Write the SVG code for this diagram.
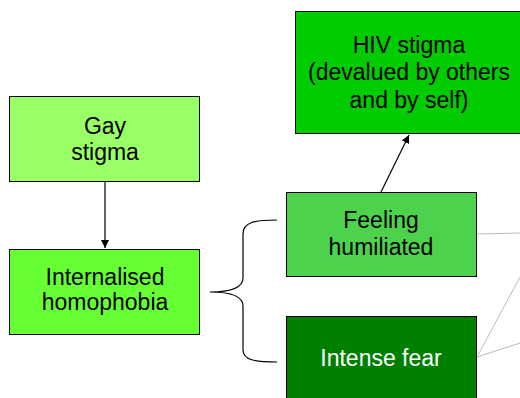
<svg xmlns="http://www.w3.org/2000/svg" width="520" height="398" viewBox="0 0 520 398">
<style>
.box{stroke:#000;stroke-width:1}
.t{font-family:"Liberation Sans",Arial,sans-serif;font-size:23px;text-anchor:middle;fill:#000}
.w{fill:#fff}
.c{fill:none;stroke:#000;stroke-width:1.2}
.g{fill:none;stroke:#bbb;stroke-width:1}
</style>
<defs>
<marker id="ah" viewBox="0 0 10 10" refX="10" refY="5" markerWidth="8" markerHeight="8" markerUnits="userSpaceOnUse" orient="auto">
<path d="M0,0 L10,5 L0,10 z" fill="#000"/>
</marker>
</defs>
<rect width="520" height="398" fill="#fff"/>
<g id="connectors">
<line class="c" x1="105" y1="182" x2="105" y2="248" marker-end="url(#ah)"/>
<line class="c" x1="381" y1="192" x2="409" y2="135" marker-end="url(#ah)"/>
<path class="c" d="M277,220 C255,220 243,222 243,234 L243,278 C243,288 232,292 210,292 C232,292 243,296 243,306 L243,350 C243,360 255,362 277,362"/>
<line class="g" x1="477" y1="234" x2="520" y2="233"/>
<line class="g" x1="477" y1="357" x2="520" y2="277"/>
<line class="g" x1="477" y1="357" x2="520" y2="343"/>
</g>
<g id="gay-stigma">
<rect class="box" x="9.5" y="96.5" width="190" height="85" fill="#99FF66"/>
<text class="t" x="105" y="134">Gay</text>
<text class="t" x="105" y="160">stigma</text>
</g>
<g id="internalised-homophobia">
<rect class="box" x="9.5" y="249.5" width="190" height="85" fill="#66FF33"/>
<text class="t" x="105" y="285">Internalised</text>
<text class="t" x="105" y="310">homophobia</text>
</g>
<g id="hiv-stigma">
<rect class="box" x="295.5" y="11.5" width="226" height="122" fill="#00CC00"/>
<text class="t" x="409" y="53">HIV stigma</text>
<text class="t" x="409" y="80">(devalued by others</text>
<text class="t" x="409" y="108">and by self)</text>
</g>
<g id="feeling-humiliated">
<rect class="box" x="286.5" y="192.5" width="190" height="84" fill="#4DD24D"/>
<text class="t" x="381" y="228">Feeling</text>
<text class="t" x="381" y="255">humiliated</text>
</g>
<g id="intense-fear">
<rect class="box" x="286.5" y="316.5" width="190" height="90" fill="#008000"/>
<text class="t w" x="381" y="366">Intense fear</text>
</g>
</svg>
